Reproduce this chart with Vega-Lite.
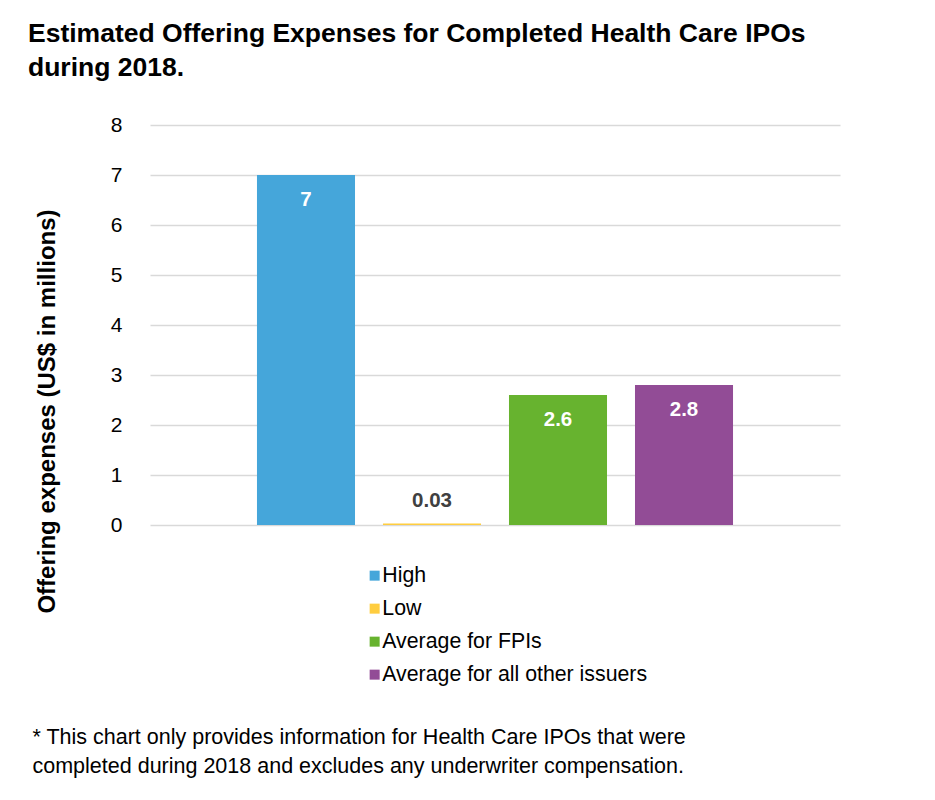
{
  "$schema": "https://vega.github.io/schema/vega-lite/v6.json",
  "autosize": "none",
  "width": 690,
  "height": 400,
  "padding": {"left": 150, "top": 125, "right": 95, "bottom": 275},
  "background": "white",
  "config": {
    "font": "Liberation Sans",
    "view": {"stroke": null}
  },
  "title": {
    "text": ["Estimated Offering Expenses for Completed Health Care IPOs", "during 2018."],
    "anchor": "start",
    "frame": "group",
    "dx": -122,
    "dy": -3,
    "fontSize": 26.5,
    "fontWeight": "bold",
    "color": "#000000",
    "lineHeight": 34,
    "offset": 30
  },
  "data": {
    "values": [
      {"series": "High", "value": 7},
      {"series": "Low", "value": 0.03},
      {"series": "Average for FPIs", "value": 2.6},
      {"series": "Average for all other issuers", "value": 2.8}
    ]
  },
  "encoding": {
    "x": {
      "field": "series",
      "type": "nominal",
      "sort": null,
      "scale": {"paddingInner": 0.222, "paddingOuter": 0.849},
      "axis": {
        "labels": false,
        "ticks": false,
        "domain": false,
        "grid": false,
        "title": ["* This chart only provides information for Health Care IPOs that were", "completed during 2018 and excludes any underwriter compensation."],
        "titleFontSize": 21.5,
        "titleFontWeight": "normal",
        "titleColor": "#000000",
        "titleAngle": 0,
        "titleAlign": "left",
        "titleBaseline": "top",
        "titleAnchor": "start",
        "titleX": -118,
        "titleY": 201,
        "titleLineHeight": 29
      }
    },
    "y": {
      "field": "value",
      "type": "quantitative",
      "scale": {"domain": [0, 8]},
      "axis": {
        "values": [0, 1, 2, 3, 4, 5, 6, 7, 8],
        "domain": false,
        "ticks": false,
        "labelPadding": 28,
        "labelFontSize": 21,
        "labelColor": "#000000",
        "gridColor": "#d9d9d9",
        "gridWidth": 1.5,
        "title": "Offering expenses (US$ in millions)",
        "titleFontSize": 24,
        "titleFontWeight": "bold",
        "titleColor": "#000000",
        "titleAngle": -90,
        "titleAlign": "center",
        "titleBaseline": "middle",
        "titleX": -103,
        "titleY": 286
      }
    }
  },
  "layer": [
    {
      "mark": {"type": "bar"},
      "encoding": {
        "color": {
          "field": "series",
          "type": "nominal",
          "sort": null,
          "scale": {
            "domain": ["High", "Low", "Average for FPIs", "Average for all other issuers"],
            "range": ["#45a6da", "#ffcd3f", "#67b32f", "#924c96"]
          },
          "legend": {
            "orient": "none",
            "legendX": 214,
            "legendY": 440,
            "padding": 0,
            "direction": "vertical",
            "title": null,
            "symbolType": "square",
            "symbolSize": 100,
            "symbolStrokeWidth": 0,
            "labelFontSize": 21.3,
            "labelColor": "#000000",
            "labelOffset": -3,
            "labelLimit": 400,
            "rowPadding": 11
          }
        }
      }
    },
    {
      "transform": [{"filter": "datum.value >= 1"}],
      "mark": {"type": "text", "baseline": "middle", "dy": 25, "color": "white", "fontSize": 20.5, "fontWeight": "bold"},
      "encoding": {"text": {"field": "value", "type": "quantitative", "format": ".2~f"}}
    },
    {
      "transform": [{"filter": "datum.value < 1"}],
      "mark": {"type": "text", "baseline": "middle", "dy": -23, "color": "#404040", "fontSize": 20.5, "fontWeight": "bold"},
      "encoding": {"text": {"field": "value", "type": "quantitative", "format": ".2~f"}}
    }
  ]
}
